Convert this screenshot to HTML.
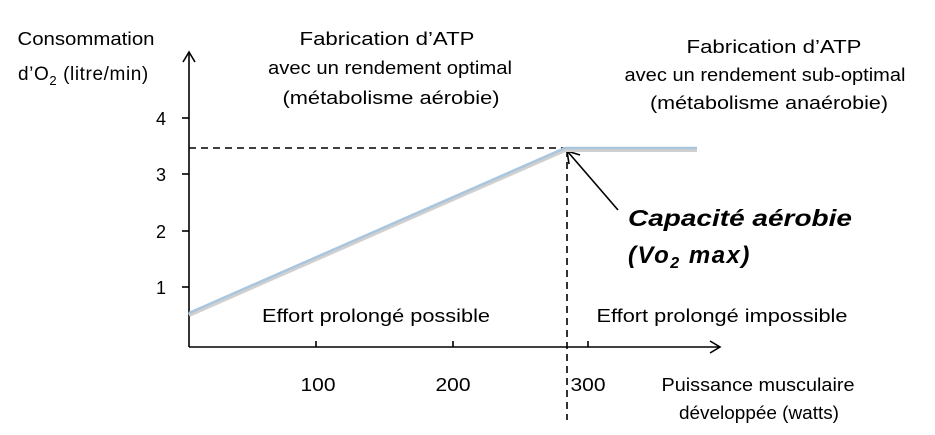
<!DOCTYPE html>
<html><head><meta charset="utf-8"><style>
html,body{margin:0;padding:0;background:#fff;}
svg{display:block;font-family:"Liberation Sans","DejaVu Sans",sans-serif;}
</style></head><body>
<svg width="935" height="435" viewBox="0 0 935 435">
<g font-size="18" fill="#000" text-anchor="middle">
<text x="86" y="45" textLength="137" lengthAdjust="spacingAndGlyphs">Consommation</text>
<text x="18" y="80" text-anchor="start" font-size="19" letter-spacing="0.6">d’O<tspan font-size="13" dy="5">2</tspan><tspan dy="-5"> (litre/min)</tspan></text>
<text x="387" y="45" textLength="175" lengthAdjust="spacingAndGlyphs">Fabrication d’ATP</text>
<text x="390" y="74" textLength="244" lengthAdjust="spacingAndGlyphs">avec un rendement optimal</text>
<text x="391" y="104" textLength="217" lengthAdjust="spacingAndGlyphs">(métabolisme aérobie)</text>
<text x="774" y="53" textLength="175" lengthAdjust="spacingAndGlyphs">Fabrication d’ATP</text>
<text x="765" y="81" textLength="281" lengthAdjust="spacingAndGlyphs">avec un rendement sub-optimal</text>
<text x="769" y="109" textLength="238" lengthAdjust="spacingAndGlyphs">(métabolisme anaérobie)</text>
<text x="161" y="125">4</text>
<text x="161" y="181">3</text>
<text x="161" y="238">2</text>
<text x="161" y="294">1</text>
<text x="318" y="391" textLength="35" lengthAdjust="spacingAndGlyphs">100</text>
<text x="453" y="391" textLength="35" lengthAdjust="spacingAndGlyphs">200</text>
<text x="588" y="391" textLength="35" lengthAdjust="spacingAndGlyphs">300</text>
<text x="376" y="322" textLength="228" lengthAdjust="spacingAndGlyphs">Effort prolongé possible</text>
<text x="722" y="322" textLength="251" lengthAdjust="spacingAndGlyphs">Effort prolongé impossible</text>
<text x="758" y="391" textLength="193" lengthAdjust="spacingAndGlyphs">Puissance musculaire</text>
<text x="759" y="419" textLength="160" lengthAdjust="spacingAndGlyphs">développée (watts)</text>
</g>
<g font-size="23" font-weight="bold" font-style="italic" fill="#000">
<text x="628" y="226" textLength="224" lengthAdjust="spacingAndGlyphs">Capacité aérobie</text>
<text x="628" y="263" font-size="24" letter-spacing="1.5">(Vo<tspan font-size="16" dy="5">2</tspan><tspan dy="-5"> max)</tspan></text>
</g>
<g stroke="#000" stroke-width="1.6" fill="none">
<line x1="189" y1="52" x2="189" y2="347"/>
<polyline points="183,62 189,52 195,62"/>
<line x1="189" y1="347" x2="720" y2="347"/>
<polyline points="710,341 720,347 710,353"/>
<line x1="182" y1="118" x2="189" y2="118"/>
<line x1="182" y1="174" x2="189" y2="174"/>
<line x1="182" y1="231" x2="189" y2="231"/>
<line x1="182" y1="287" x2="189" y2="287"/>
<line x1="316" y1="341" x2="316" y2="347"/>
<line x1="453" y1="341" x2="453" y2="347"/>
<line x1="588" y1="341" x2="588" y2="347"/>
<line x1="189" y1="148" x2="565" y2="148" stroke-dasharray="7,5"/>
<line x1="567" y1="150" x2="567" y2="420" stroke-dasharray="7,5"/>
<line x1="618" y1="210" x2="568" y2="152"/>
<polyline points="569,164 567,151 580,155"/>
</g>
<polyline points="189,315 565,150 697,150" fill="none" stroke="#d0d0d0" stroke-width="4"/>
<polyline points="189,313 565,148 697,148" fill="none" stroke="#a9c6de" stroke-width="2.5"/>
</svg>
</body></html>
